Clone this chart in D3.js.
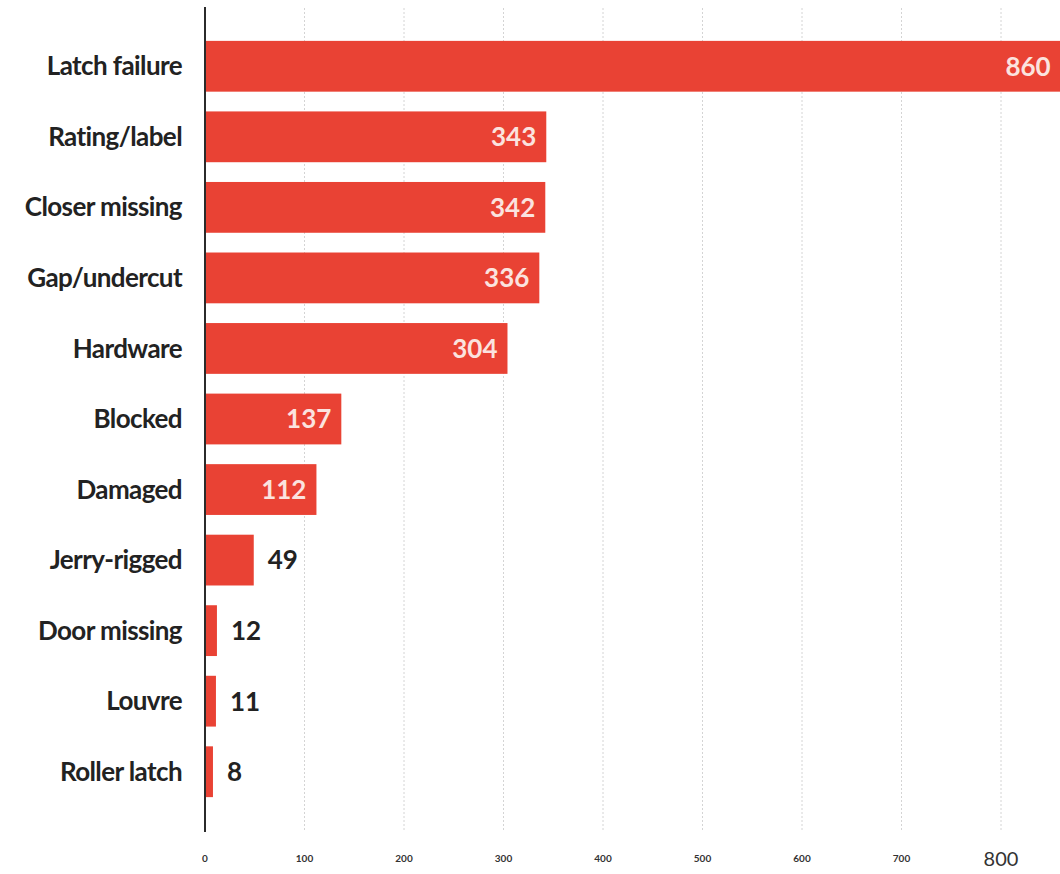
<!DOCTYPE html>
<html>
<head>
<meta charset="utf-8">
<script src="https://cdn.jsdelivr.net/npm/d3@7"></script>
<style>
  body { margin: 0; background: #fff; }
  svg { display: block; }
</style>
</head>
<body>
<div id="chart"></div>
<script>
// Data
var categories = ['Latch failure', 'Rating/label', 'Closer missing', 'Gap/undercut', 'Hardware',
  'Blocked', 'Damaged', 'Jerry-rigged', 'Door missing', 'Louvre', 'Roller latch'];
var values = [860, 343, 342, 336, 304, 137, 112, 49, 12, 11, 8];
var tickValues = [0, 100, 200, 300, 400, 500, 600, 700, 800];

var width = 1060, height = 874;
var barColor = '#e94234';

var data = categories.map(function(c, i) { return { name: c, value: values[i] }; });

var svg = d3.select('#chart').append('svg')
  .attr('width', width)
  .attr('height', height);

var x = d3.scaleLinear()
  .domain([0, 800])
  .range([205, 1001]);

var y = d3.scaleBand()
  .domain(categories)
  .range([31, 807])
  .paddingInner(0.28)
  .paddingOuter(0.14);

// dotted gridlines
svg.selectAll('.grid')
  .data(tickValues.slice(1))
  .enter().append('line')
  .attr('class', 'grid')
  .attr('x1', function(d) { return x(d); })
  .attr('x2', function(d) { return x(d); })
  .attr('y1', 8)
  .attr('y2', 832)
  .style('stroke', '#d4d4d4')
  .style('stroke-width', 1)
  .style('stroke-dasharray', '2,2');

// bars
svg.selectAll('.bar')
  .data(data)
  .enter().append('rect')
  .attr('class', 'bar')
  .attr('x', x(0))
  .attr('y', function(d) { return y(d.name); })
  .attr('width', function(d) { return x(d.value) - x(0); })
  .attr('height', y.bandwidth())
  .style('fill', barColor);

// axis line
svg.append('line')
  .attr('x1', x(0)).attr('x2', x(0))
  .attr('y1', 7).attr('y2', 832)
  .style('stroke', '#2b2b2b')
  .style('stroke-width', 2);

// category labels
svg.selectAll('.cat')
  .data(data)
  .enter().append('text')
  .attr('class', 'cat')
  .attr('x', 182)
  .attr('y', function(d) { return y(d.name) + y.bandwidth() / 2; })
  .attr('dy', '.35em')
  .style('text-anchor', 'end')
  .style('font-family', 'Lato, sans-serif')
  .style('font-weight', 700)
  .style('font-size', '26px')
  .style('letter-spacing', '-0.6px')
  .style('fill', '#222')
  .text(function(d) { return d.name; });

// value labels: inside the bar when it is wide enough, else after it
svg.selectAll('.val')
  .data(data)
  .enter().append('text')
  .attr('class', 'val')
  .attr('x', function(d) { return d.value > 100 ? x(d.value) - 10 : x(d.value) + 14; })
  .attr('y', function(d) { return y(d.name) + y.bandwidth() / 2; })
  .attr('dy', '.36em')
  .style('text-anchor', function(d) { return d.value > 100 ? 'end' : 'start'; })
  .style('font-family', 'Lato, sans-serif')
  .style('font-weight', 700)
  .style('font-size', '26px')
  .style('fill', function(d) { return d.value > 100 ? '#fbe3df' : '#222'; })
  .text(function(d) { return d.value; });

// tick labels (the last one is printed bigger in the original)
svg.selectAll('.tick')
  .data(tickValues)
  .enter().append('text')
  .attr('class', 'tick')
  .attr('x', function(d) { return x(d); })
  .attr('y', function(d) { return d === 800 ? 866 : 862; })
  .style('text-anchor', 'middle')
  .style('font-family', 'Lato, sans-serif')
  .style('font-weight', function(d) { return d === 800 ? 400 : 700; })
  .style('font-size', function(d) { return d === 800 ? '20px' : '10px'; })
  .style('fill', '#333')
  .text(function(d) { return d; });
</script>
</body>
</html>
